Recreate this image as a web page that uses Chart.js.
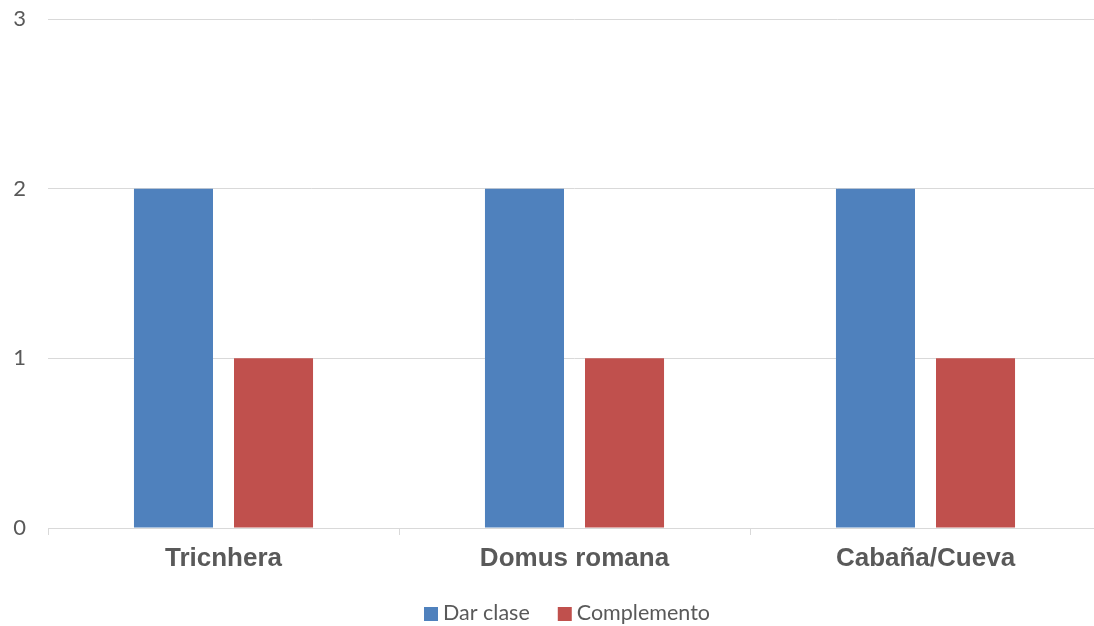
<!DOCTYPE html>
<html>
<head>
<meta charset="utf-8">
<script src="https://cdn.jsdelivr.net/npm/chart.js@4"></script>
<style>
html,body{margin:0;padding:0;background:#fff;overflow:hidden;}
#wrap{width:1101px;height:626px;position:relative;}
</style>
</head>
<body>
<div id="wrap"><canvas id="c"></canvas></div>
<script>
const categories = ["Tricnhera", "Domus romana", "Cabaña/Cueva"];
const darClase = [2, 2, 2];
const complemento = [1, 1, 1];
const seriesNames = ["Dar clase", "Complemento"];

const bottomLegend = {
  id: 'bottomLegend',
  afterDraw(chart) {
    const ctx = chart.ctx;
    const font = '21.5px Lato, "Open Sans", sans-serif';
    const box = 14, gapText = 5, gapItem = 28;
    ctx.save();
    ctx.font = font;
    const items = chart.data.datasets.map(d => ({label: d.label, color: d.backgroundColor, w: ctx.measureText(d.label).width}));
    const total = items.reduce((a, it) => a + box + gapText + it.w, 0) + gapItem * (items.length - 1);
    let x = 567 - total / 2;
    const yc = 613;
    ctx.textBaseline = 'middle';
    ctx.textAlign = 'left';
    items.forEach(it => {
      ctx.fillStyle = it.color;
      ctx.fillRect(x, yc - 6, box, box);
      x += box + gapText;
      ctx.fillStyle = '#595959';
      ctx.fillText(it.label, x, yc);
      x += it.w + gapItem;
    });
    ctx.restore();
  }
};

new Chart(document.getElementById('c'), {
  type: 'bar',
  data: {
    labels: categories,
    datasets: [
      {label: seriesNames[0], data: darClase, backgroundColor: '#4F81BD'},
      {label: seriesNames[1], data: complemento, backgroundColor: '#C0504D'}
    ]
  },
  plugins: [bottomLegend],
  options: {
    responsive: true,
    maintainAspectRatio: false,
    animation: false,
    layout: {padding: {top: 19, left: 0, right: 0, bottom: 48}},
    datasets: {bar: {categoryPercentage: 0.57, barPercentage: 0.79}},
    plugins: {
      legend: {display: false},
      tooltip: {enabled: false}
    },
    scales: {
      x: {
        grid: {drawOnChartArea: false, color: '#d9d9d9', tickLength: 7, lineWidth: 1},
        border: {color: '#d9d9d9'},
        ticks: {color: '#595959', font: {family: '"Liberation Sans", Arial, sans-serif', size: 26, weight: 'bold'}, padding: 8},
        afterFit: s => { s.height = 50; s.paddingLeft = 0; s.paddingRight = 0; }
      },
      y: {
        min: 0, max: 3,
        ticks: {stepSize: 1, color: '#595959', font: {family: 'Lato, "Open Sans", sans-serif', size: 22}, padding: 22},
        grid: {color: '#d9d9d9', drawTicks: false, lineWidth: 1},
        border: {display: false},
        afterFit: s => { s.width = 48; s.paddingTop = 0; s.paddingBottom = 0; }
      }
    }
  }
});
</script>
</body>
</html>
